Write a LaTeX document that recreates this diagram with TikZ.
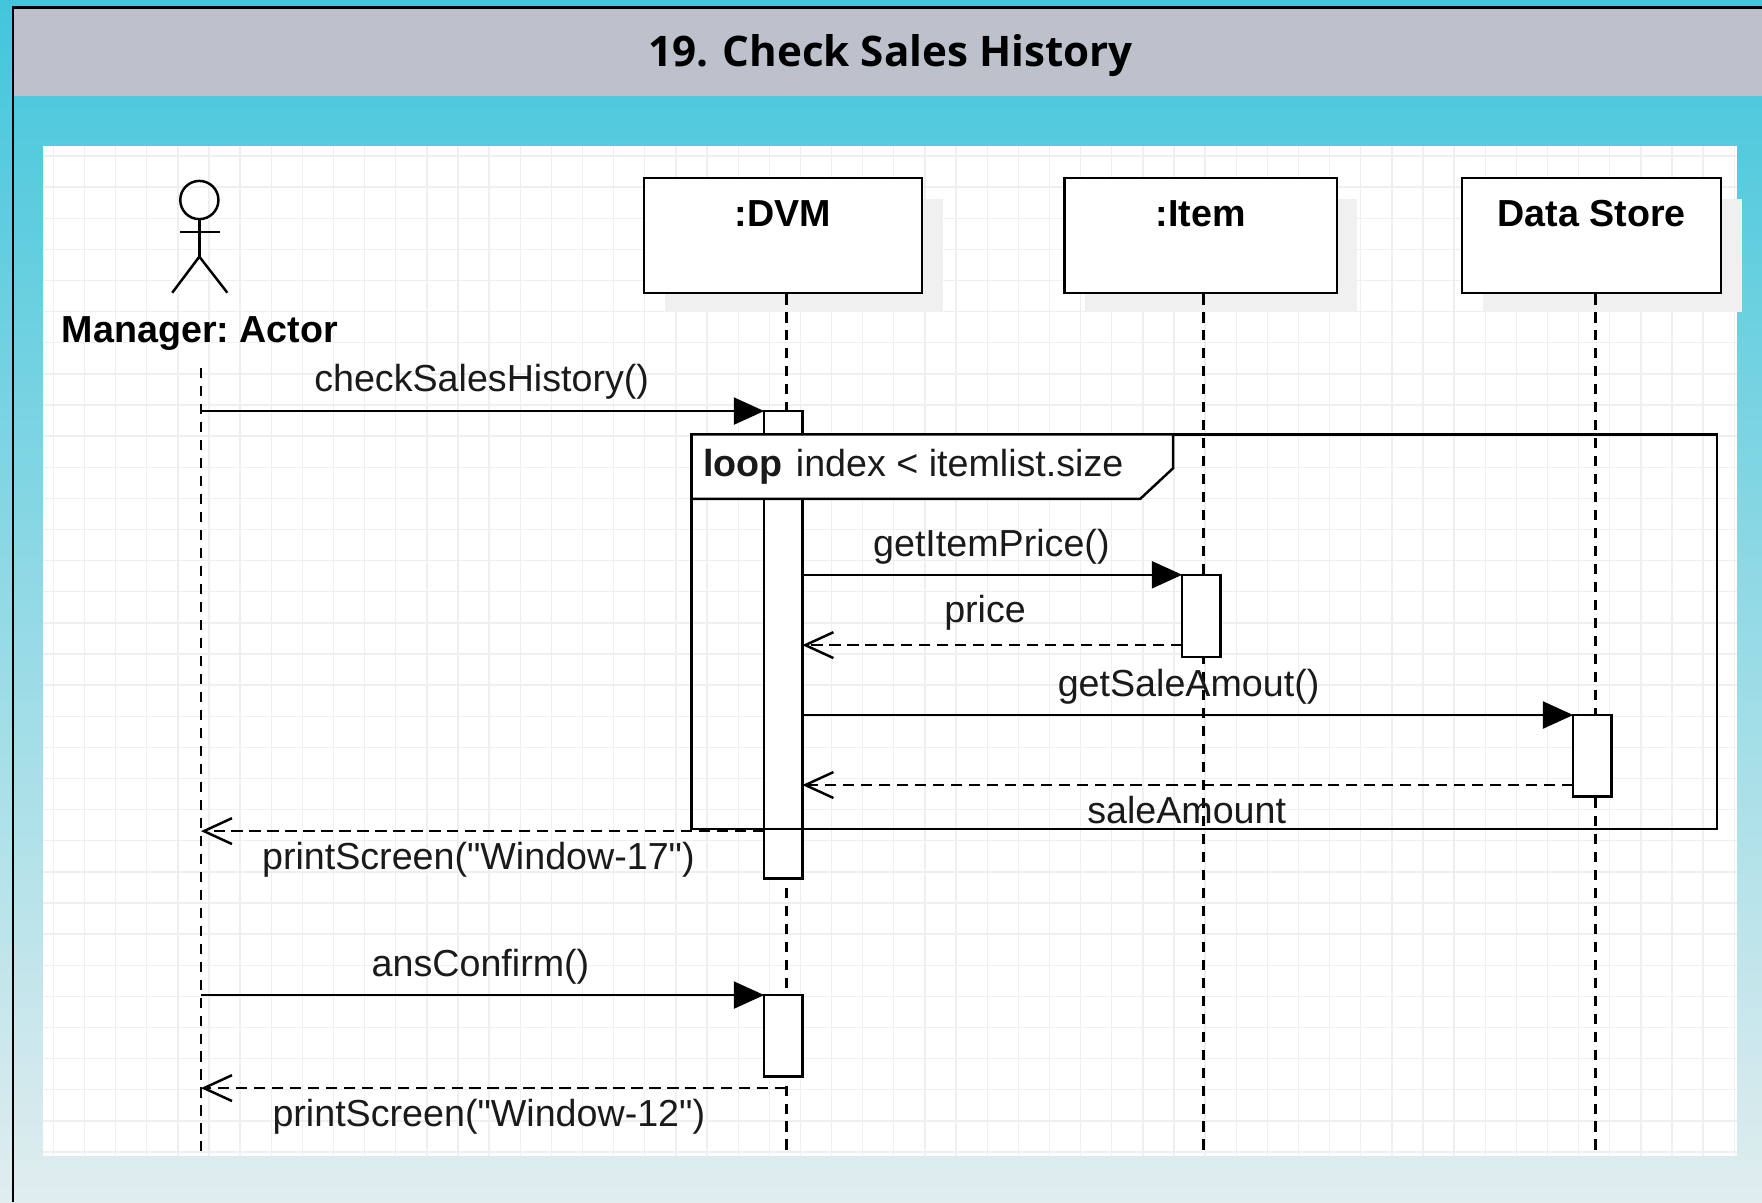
\documentclass[tikz,border=0pt]{standalone}
\usepackage{fontspec}
\setmainfont{Liberation Sans}[Ligatures=TeXOff]
\newfontfamily\titlefont{Open Sans}
\usetikzlibrary{arrows.meta,calc}
\definecolor{cyanTop}{HTML}{42C6DB}
\definecolor{cyanBot}{HTML}{E1EDEF}
\definecolor{headc}{HTML}{BDC1CC}
\definecolor{gridc}{HTML}{EFEFEF}
\definecolor{shadowc}{HTML}{F0F0F0}
\definecolor{txtc}{HTML}{1A1A1A}
\begin{document}
\begin{tikzpicture}[x=1pt,y=-1pt,
  every node/.style={inner sep=0pt, outer sep=0pt},
  lab/.style={font=\fontsize{33.5}{40}\selectfont\frenchspacing, text=txtc},
  blab/.style={font=\fontsize{33.5}{40}\selectfont\bfseries\frenchspacing, text=black},
  objbox/.style={draw, line width=2.2pt, fill=white, minimum height=102pt},
  actbar/.style={draw, line width=2.2pt, fill=white, minimum width=34pt},
  lifeline/.style={line width=2.2pt, dash pattern=on 9pt off 7pt},
  msgline/.style={line width=2.2pt, -{Triangle[length=27pt,width=24pt]}},
  retline/.style={line width=2.2pt, dash pattern=on 10pt off 6pt, -{Straight Barb[length=25pt,width=23pt,line width=2.2pt]}},
  gridline/.style={draw=gridc, line width=1.2pt},
  framestyle/.style={draw, line width=2.2pt}
]
\useasboundingbox (0,0) rectangle (1568,1070);
% background
\shade[top color=cyanTop, bottom color=cyanBot] (0,0) rectangle (1568,1070);
\fill[headc] (12,7) rectangle (1568,85);
\draw[line width=2.5pt] (11.5,1070) -- (11.5,6.5) -- (1568,6.5);
\node[font=\fontsize{37.5}{44}\selectfont\titlefont\bfseries, anchor=base] (title) at (792.4,59.3) {19. Check Sales History};
% white panel with grid
\fill[white] (38,129.6) rectangle (1545.6,1029);
\foreach \k in {0,...,54} \draw[gridline] ({47.5+27.7*\k},129.6) -- ({47.5+27.7*\k},1029);
\foreach \k in {0,...,32} \draw[gridline] (38,{138.8+27.7*\k}) -- (1545.6,{138.8+27.7*\k});
% shadows
\fill[shadowc] (591.5,176.7) rectangle (839,278);
\fill[shadowc] (965.8,176.7) rectangle (1208,278);
\fill[shadowc] (1319.5,176.7) rectangle (1550,278);
% object boxes
\node[objbox, minimum width=247.6pt] (dvm) at (696.8,209.6) {};
\node[objbox, minimum width=242.3pt] (item) at (1068.5,209.6) {};
\node[objbox, minimum width=230.6pt] (ds) at (1416.3,209.6) {};
\node[blab, anchor=base] (dvmlab) at (696.8,201.7) {:DVM};
\node[blab, anchor=base] (itemlab) at (1068.5,201.7) {:Item};
\node[blab, anchor=base] (dslab) at (1416.3,201.7) {Data Store};
% actor
\node[draw, circle, line width=2.2pt, minimum size=34pt] (head) at (177.4,178) {};
\coordinate (hip) at (177.4,228.4);
\coordinate (armL) at (160.2,206.5);
\coordinate (armR) at (195.8,206.5);
\coordinate (legL) at (153.3,260.5);
\coordinate (legR) at (202.3,260.5);
\draw[line width=2.2pt] (head.south) -- (hip);
\draw[line width=2.2pt] (armL) -- (armR);
\draw[line width=2.2pt] (legL) -- (hip) -- (legR);
\node[blab, anchor=base] (actorlab) at (178,305) {Manager: Actor};
% lifelines
\coordinate (actortop) at (178.8,327.7);
\coordinate (actorbot) at (178.8,1029);
\coordinate (dvmtop) at (699.8,262);
\coordinate (dvmbot) at (699.8,1029);
\coordinate (itemtop) at (1071,262);
\coordinate (itembot) at (1071,1029);
\coordinate (dstop) at (1419.8,262);
\coordinate (dsbot) at (1419.8,1029);
\draw[lifeline] (actortop) -- (actorbot);
\draw[lifeline] (dvmtop) -- (dvmbot);
\draw[lifeline] (itemtop) -- (itembot);
\draw[lifeline] (dstop) -- (dsbot);
% activation bars
\node[actbar, minimum height=415.8pt] (act1) at (697,573.7) {};
\node[actbar, minimum height=72.5pt] (act2) at (697,921.75) {};
\node[actbar, minimum height=73pt] (actItem) at (1069,548) {};
\node[actbar, minimum height=72.7pt] (actDS) at (1417,672.65) {};
% loop frame
\node[framestyle, minimum width=912.2pt, minimum height=351.2pt] (loop) at (1071.6,562.1) {};
\draw[line width=2.2pt, fill=white] (loop.north west) -- ++(428.5,0) -- ++(0,30.1) -- ++(-29.4,27.4) -- ++(-399.1,0) -- cycle;
\node[lab, anchor=base west] (looplab) at (625.6,424.2) {\textbf{loop}\hspace{12pt}index < itemlist.size};
% messages
\draw[msgline] (actortop |- act1.north west) -- (act1.north west);
\node[lab, anchor=base] (m1) at (428.6,348.6) {checkSalesHistory()};
\draw[msgline] (act1.east |- actItem.north west) -- (actItem.north west);
\node[lab, anchor=base] (m2) at (882.2,495.4) {getItemPrice()};
\coordinate (r1) at ($(actItem.south west)+(0,-10.4)$);
\draw[retline] (r1) -- (act1.east |- r1);
\node[lab, anchor=base] (m3) at (876.6,554) {price};
\draw[msgline] (act1.east |- actDS.north west) -- (actDS.north west);
\node[lab, anchor=base] (m4) at (1057.7,620) {getSaleAmout()};
\coordinate (r2) at ($(actDS.south west)+(0,-10.4)$);
\draw[retline] (r2) -- (act1.east |- r2);
\node[lab, anchor=base] (m5) at (1056,732.7) {saleAmount};
\coordinate (r3) at ($(act1.south west)+(0,-42)$);
\draw[retline] (r3) -- (actortop |- r3);
\node[lab, anchor=base] (m6) at (425.7,774.2) {printScreen("Window-17")};
\draw[msgline] (actortop |- act2.north west) -- (act2.north west);
\node[lab, anchor=base] (m7) at (427.6,869.2) {ansConfirm()};
\coordinate (r4) at ($(act2.south)+(0,10.3)$);
\draw[retline] (dvmtop |- r4) -- (actortop |- r4);
\node[lab, anchor=base] (m8) at (435,1002.6) {printScreen("Window-12")};
\end{tikzpicture}
\end{document}
